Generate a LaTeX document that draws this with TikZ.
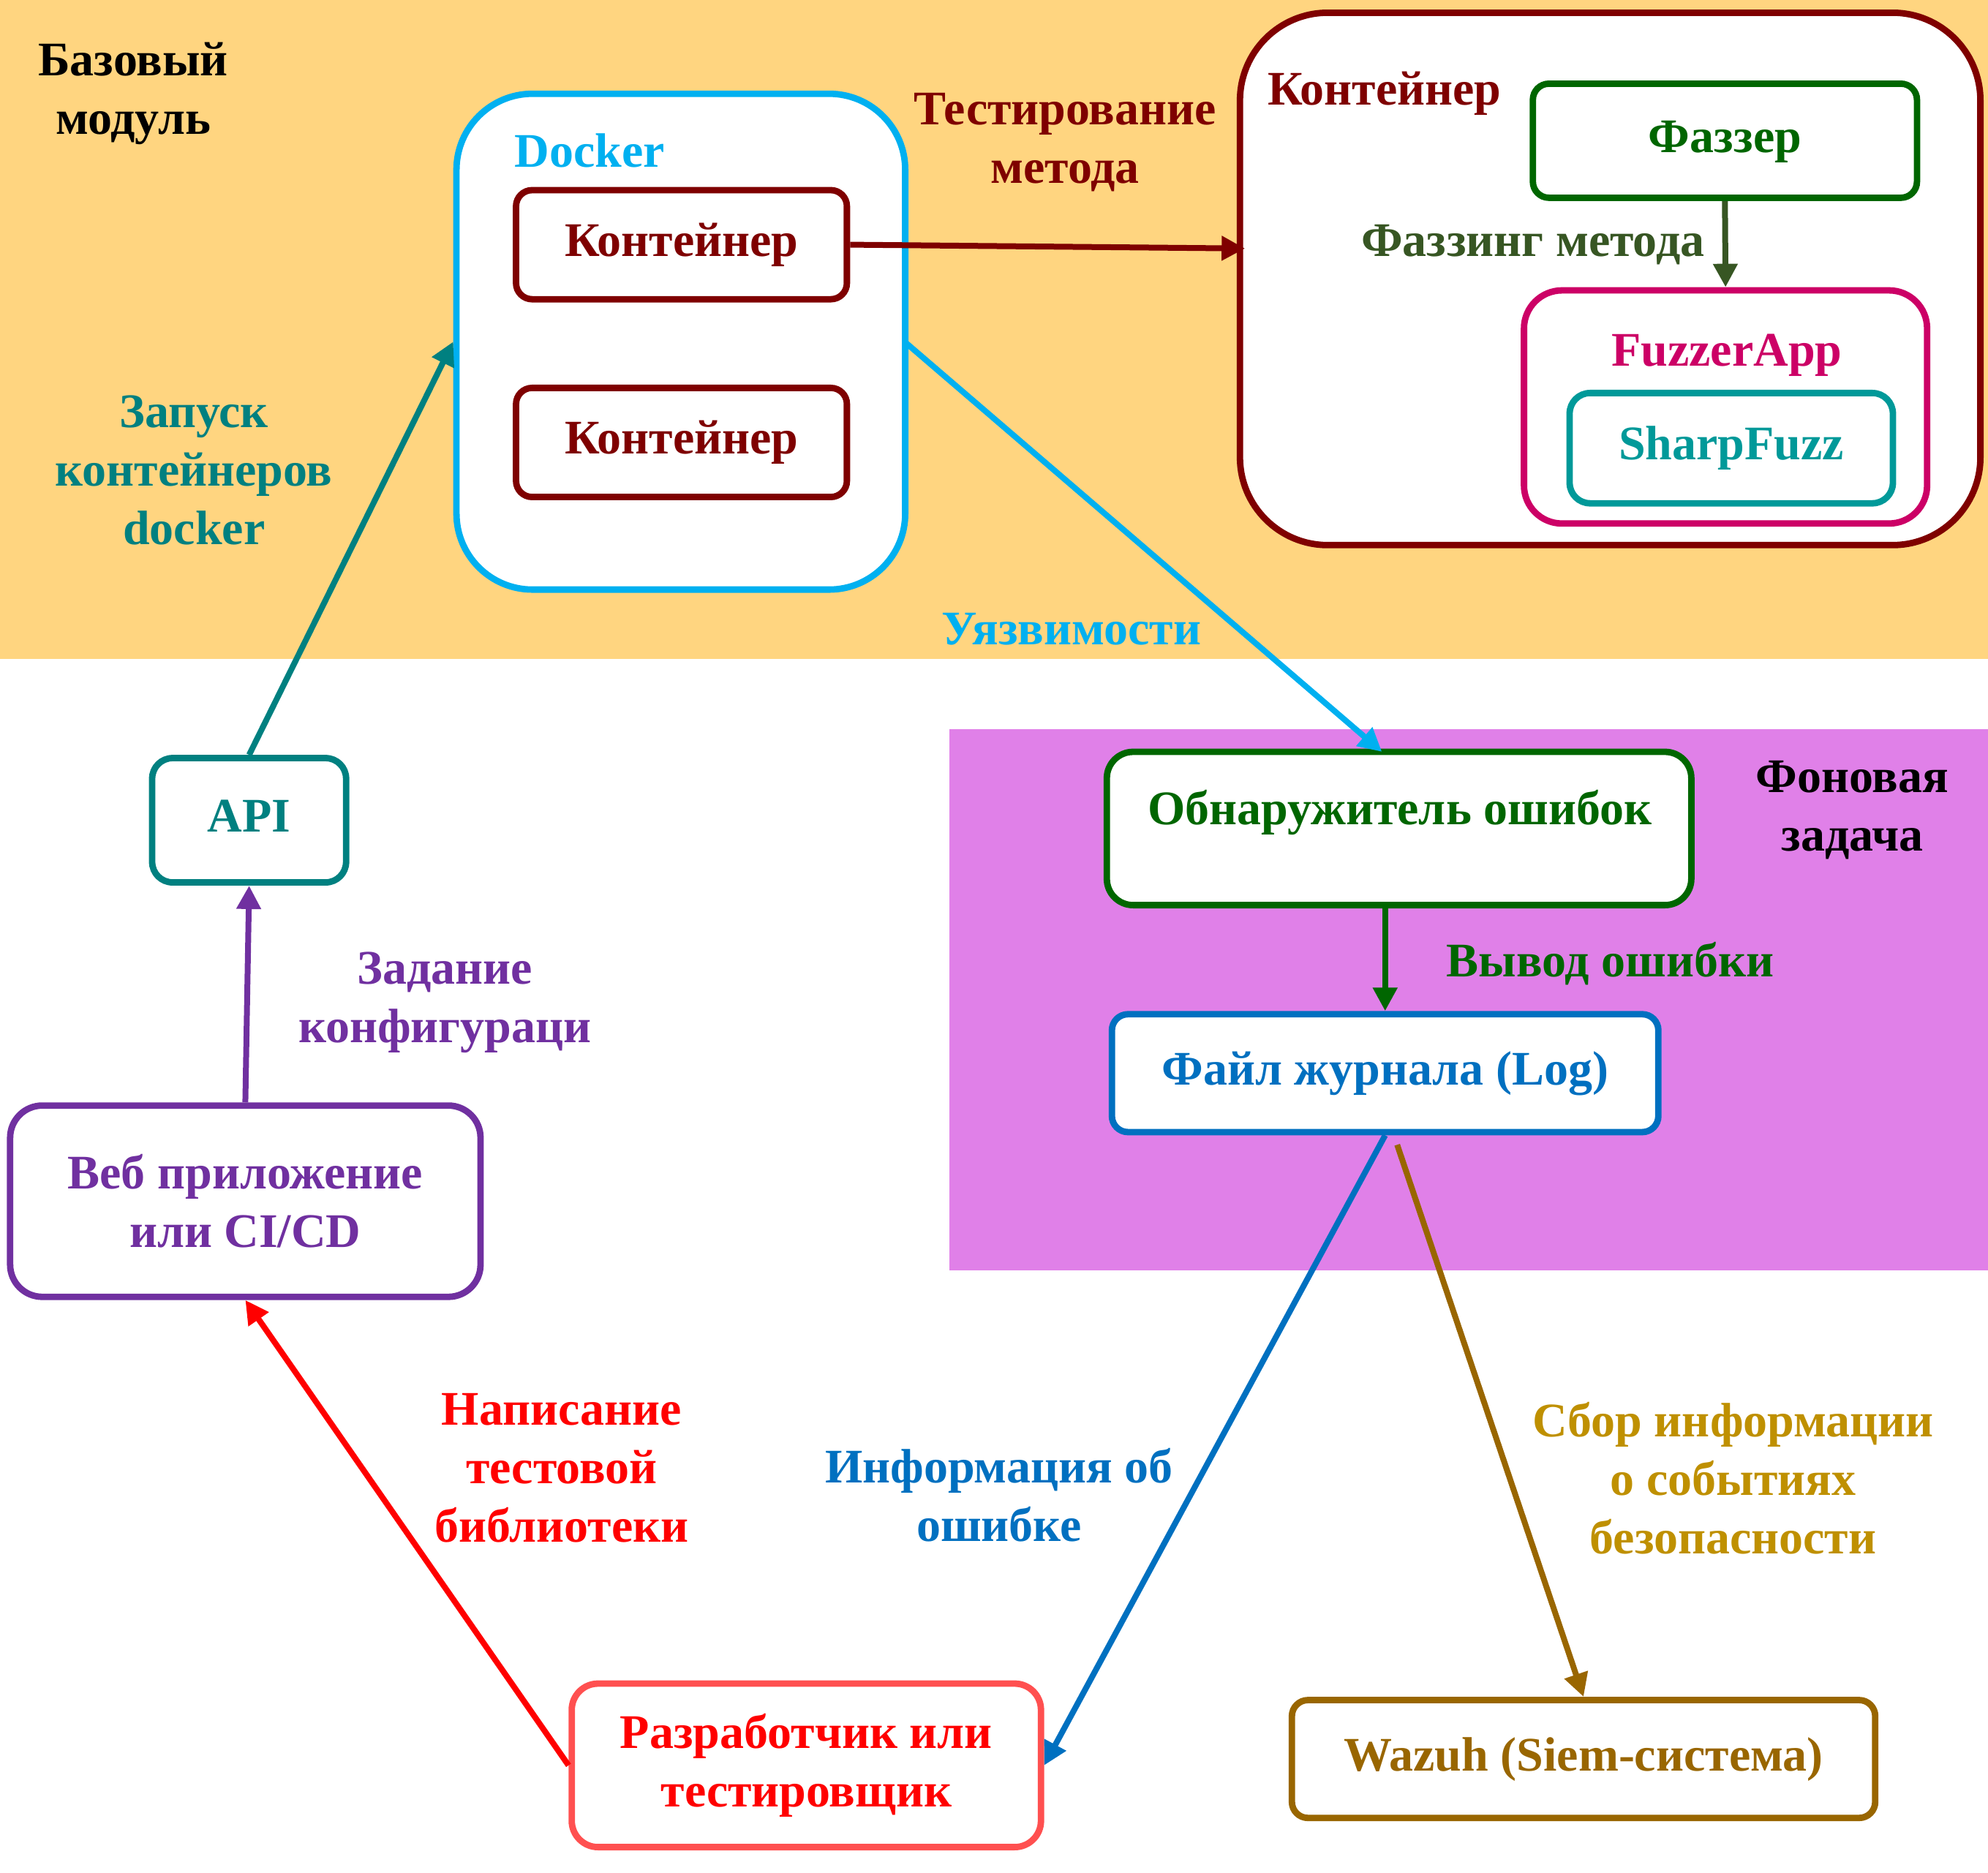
\documentclass[tikz,border=0pt]{standalone}
\usepackage{fontspec}
\setmainfont{Liberation Serif}
\usetikzlibrary{arrows.meta,positioning,calc}
\definecolor{bgorange}{HTML}{FFD580}
\definecolor{bgpurple}{HTML}{E080E8}
\definecolor{dockblue}{HTML}{00B0F0}
\definecolor{dred}{HTML}{7F0000}
\definecolor{dgreen}{HTML}{006600}
\definecolor{olive}{HTML}{375623}
\definecolor{magen}{HTML}{CC0066}
\definecolor{sharpteal}{HTML}{009999}
\definecolor{logblue}{HTML}{0070C0}
\definecolor{wbrown}{HTML}{996600}
\definecolor{gold}{HTML}{BF9000}
\definecolor{redtxt}{HTML}{FF0000}
\definecolor{redbox}{HTML}{FF5050}
\definecolor{purp}{HTML}{7030A0}
\definecolor{apiteal}{HTML}{008080}
\begin{document}
\begin{tikzpicture}[x=0.4334pt,y=-0.4334pt,
  font=\fontsize{16.5pt}{20pt}\selectfont\bfseries,
  box/.style={draw,fill=white,line width=2.2pt,rounded corners=5.5pt,inner sep=0pt,align=center},
  one/.style={text height=11.5pt,text depth=3.5pt},
  txt/.style={align=center,inner sep=0pt,yshift=-1.3pt},
  conn/.style={line width=2pt,-{Triangle[length=8pt,width=8pt]}}]
\useasboundingbox (0,0) rectangle (1568,1477.4);
% backgrounds
\fill[bgorange] (0,0) rectangle (1568,520);
\fill[bgpurple] (749,575) rectangle (1568,1002);
% upper module
\node[txt] (base) at (105,71) {Базовый\\модуль};
\node[box,draw=dockblue,rounded corners=26pt,minimum width=153.4pt,minimum height=169.5pt] (docker) at (537,269.5) {};
\node[txt,text=dockblue] (dockerlbl) at (465,116) {Docker};
\node[box,one,draw=dred,text=dred,minimum width=113.1pt,minimum height=37.3pt] (k1) at (537.5,193) {Контейнер};
\node[box,one,draw=dred,text=dred,minimum width=113.1pt,minimum height=37.3pt] (k2) at (537.5,349) {Контейнер};
\node[box,draw=dred,rounded corners=30pt,minimum width=253.1pt,minimum height=182pt] (bigc) at (1270,220) {};
\node[txt,text=dred] (bigclbl) at (1092,71) {Контейнер};
\node[box,one,draw=dgreen,text=dgreen,minimum width=131.3pt,minimum height=39pt] (fuzzer) at (1360.5,111) {Фаззер};
\node[box,draw=magen,rounded corners=13pt,minimum width=137.8pt,minimum height=79.7pt] (fapp) at (1361,321) {};
\node[txt,text=magen] (fapplbl) at (1362,277) {FuzzerApp};
\node[box,one,draw=sharpteal,text=sharpteal,rounded corners=7pt,minimum width=110.5pt,minimum height=37.7pt] (sharp) at (1365.5,353.5) {SharpFuzz};
\node[txt,text=dred] (testlbl) at (840,109) {Тестирование\\метода};
\node[txt,text=olive] (fzlbl) at (1209,190) {Фаззинг метода};
\node[txt,text=dockblue] (vulnlbl) at (845,493) {Уязвимости};
\node[txt,text=apiteal] (runlbl) at (153,368) {Запуск\\контейнеров\\docker};
% background task
\node[txt] (bglbl) at (1461,636) {Фоновая\\задача};
\node[box,draw=dgreen,rounded corners=9pt,minimum width=199.8pt,minimum height=52.4pt] (det) at (1103.5,653.5) {};
\node[txt,text=dgreen] (detlbl) at (1104,638) {Обнаружитель ошибок};
\node[txt,text=dgreen] (outlbl) at (1270,757) {Вывод ошибки};
\node[box,one,draw=logblue,text=logblue,minimum width=186.8pt,minimum height=40.3pt] (log) at (1092.5,846.5) {Файл журнала (Log)};
% left chain
\node[box,one,draw=apiteal,text=apiteal,rounded corners=7pt,minimum width=66.3pt,minimum height=42.5pt] (api) at (196.5,647) {API};
\node[box,draw=purp,text=purp,rounded corners=11pt,minimum width=160.8pt,minimum height=65.4pt] (web) at (193.5,947.5) {Веб приложение\\или CI/CD};
\node[txt,text=purp] (cfglbl) at (351,788) {Задание\\конфигураци};
% bottom
\node[box,draw=redbox,text=redtxt,rounded corners=9pt,minimum width=160.4pt,minimum height=55.9pt] (dev) at (636,1392.5) {Разработчик или\\тестировщик};
\node[box,one,draw=wbrown,text=wbrown,minimum width=199.4pt,minimum height=40.3pt] (wazuh) at (1249,1387.5) {Wazuh (Siem-система)};
\node[txt,text=redtxt] (writelbl) at (443,1155) {Написание\\тестовой\\библиотеки};
\node[txt,text=logblue] (infolbl) at (788,1176) {Информация об\\ошибке};
\node[txt,text=gold] (collbl) at (1367,1163) {Сбор информации\\о событиях\\безопасности};
% connectors
\coordinate (bigin) at (982,196);
\coordinate (wzstart) at (1102,903);
\coordinate (detin) at (1090,593);
\draw[conn,dred] (k1.east) -- (bigin);
\draw[conn,olive] (fuzzer.south) -- (fapp.north);
\draw[conn,dockblue] (714,270) -- (detin);
\draw[conn,dgreen] (det.south -| log.north) -- (log.north);
\draw[conn,logblue] (log.south) -- (dev.east);
\draw[conn,wbrown] (wzstart) -- (wazuh.north);
\draw[conn,redtxt] (dev.west) -- (web.south);
\draw[conn,purp] (web.north) -- (api.south);
\draw[conn,apiteal] (api.north) -- (docker.west);
\end{tikzpicture}
\end{document}
